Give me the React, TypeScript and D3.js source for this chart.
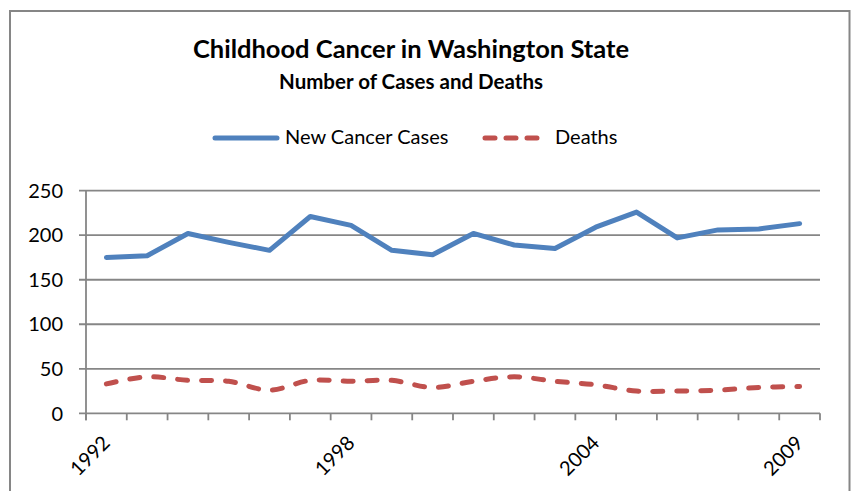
import React from "react";
import * as d3 from "d3";

const years = [1992,1993,1994,1995,1996,1997,1998,1999,2000,2001,2002,2003,2004,2005,2006,2007,2008,2009];
const newCases = [175,177,202,192,183,221,211,183,178,202,189,185,209,226,197,206,207,213];
const deaths = [33,41,37,36,26,37,36,37,29,36,41,36,32,25,25,26,29,30];
const yTicks = [0,50,100,150,200,250];
const xLabels = [1992,1998,2004,2009];
const title = "Childhood Cancer in Washington State";
const subtitle = "Number of Cases and Deaths";
const seriesNames = ["New Cancer Cases","Deaths"];

const W = 858, H = 491;
const FONT = "Lato, 'Open Sans', sans-serif";
const GRID = "#868686";
const BLUE = "#4F81BD";
const RED = "#C0504D";

export default function App() {
  const x = d3.scaleBand<number>().domain(years).range([86, 820]).padding(0);
  const y = d3.scaleLinear().domain([0, 250]).range([413.3, 190.7]);
  const cx = (d: number) => (x(d) as number) + x.bandwidth() / 2;

  const blueLine = d3.line<number>().x((_, i) => cx(years[i])).y((d) => y(d)).curve(d3.curveLinear);
  const redLine = d3.line<number>().x((_, i) => cx(years[i])).y((d) => y(d)).curve(d3.curveCatmullRom.alpha(0.5));

  const boundaries = years.map((d) => x(d) as number).concat([820]);

  return (
    <svg width={W} height={H} style={{ position: "absolute", left: 0, top: 0, background: "#fff" }}>
      <rect x={10} y={11} width={839.5} height={H + 10} fill="#fff" stroke={GRID} strokeWidth={2} />
      <text x={411} y={58} textAnchor="middle" fontFamily={FONT} fontWeight="bold" fontSize={25.5}>{title}</text>
      <text x={411} y={89} textAnchor="middle" fontFamily={FONT} fontWeight="bold" fontSize={20.5}>{subtitle}</text>

      {/* legend */}
      <line x1={215} x2={277} y1={138} y2={138} stroke={BLUE} strokeWidth={5} strokeLinecap="round" />
      <text x={285} y={144} fontFamily={FONT} fontSize={20}>{seriesNames[0]}</text>
      <line x1={485} x2={540} y1={138} y2={138} stroke={RED} strokeWidth={5} strokeLinecap="round" strokeDasharray="10 11" />
      <text x={555} y={144} fontFamily={FONT} fontSize={20}>{seriesNames[1]}</text>

      {/* grid */}
      {yTicks.map((t) => (
        <g key={t}>
          <line x1={79} x2={820} y1={y(t)} y2={y(t)} stroke={GRID} strokeWidth={1.8} />
          <text x={63} y={y(t)} dy="0.36em" textAnchor="end" fontFamily={FONT} fontSize={20}>{t}</text>
        </g>
      ))}
      <line x1={86} x2={86} y1={y(250)} y2={y(0) + 7} stroke={GRID} strokeWidth={1.8} />
      {boundaries.map((b, i) => (
        <line key={i} x1={b} x2={b} y1={y(0)} y2={y(0) + 7} stroke={GRID} strokeWidth={1.8} />
      ))}
      {xLabels.map((yr) => (
        <text key={yr} transform={`translate(${cx(yr) - 5},${y(0) + 21}) rotate(-45)`} textAnchor="end" dy="0.7em"
          fontFamily={FONT} fontSize={20}>{yr}</text>
      ))}

      <path d={blueLine(newCases) || ""} fill="none" stroke={BLUE} strokeWidth={5} strokeLinejoin="round" strokeLinecap="round" />
      <path d={redLine(deaths) || ""} fill="none" stroke={RED} strokeWidth={5} strokeLinecap="round" strokeDasharray="10 14" />
    </svg>
  );
}
